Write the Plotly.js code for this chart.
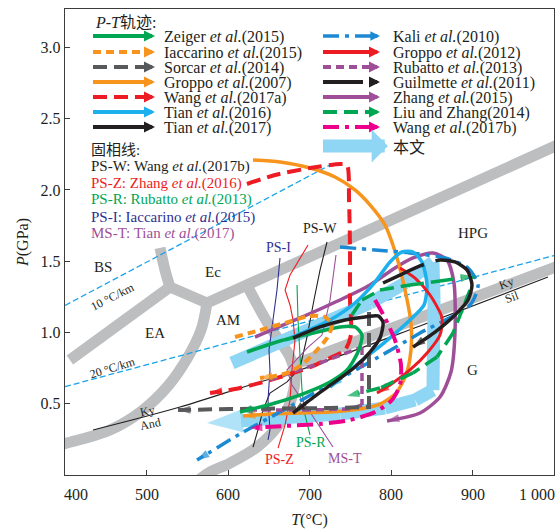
<!DOCTYPE html>
<html><head><meta charset="utf-8">
<script src="https://cdn.plot.ly/plotly-3.0.1.min.js"></script>
<style>body{margin:0;padding:0;background:#fff}#chart{width:559px;height:531px}</style>
</head><body><div id="chart"></div>
<script>
// ---------------- DATA (T in °C, P in GPa) ----------------
// P-T paths
const zeigerT=[623.3,663.8,704.3,737.4,755.8,764.4,759.5,746,725.2,694.5,657.7,614.7];
const zeigerP=[0.863,0.940,0.996,1.039,1.039,0.982,0.863,0.737,0.653,0.575,0.505,0.442];
const iaccarinoT=[608.6,639.3,670,700.6,719,727.6,721.5,709.2,694.5,676.1,657.7,639.3];
const iaccarinoP=[0.968,1.017,1.067,1.116,1.109,1.053,0.961,0.877,0.793,0.723,0.695,0.681];
const sorcarT=[773,773,773,725.2,663.8,602.5,538.7];
const sorcarP=[1.144,0.81,0.477,0.470,0.463,0.463,0.456];
const groppo07T=[630.7,663.8,700.6,731.3,755.8,774.2,792.6,807.4,817.2,824.5,824.5,818.4,806.1,786.5,762,725.2,688.3,651.5,618.4];
const groppo07P=[2.210,2.196,2.154,2.091,2.000,1.895,1.754,1.523,1.298,1.067,0.877,0.702,0.575,0.498,0.463,0.442,0.435,0.428,0.414];
const wang17aT=[623.3,657.7,700.6,737.4,746,748.5,749.7,749.7,750.9,743.6,725.2,704.3,676.1,639.3,608.6,577.9];
const wang17aP=[2.042,2.105,2.154,2.182,2.175,1.930,1.579,1.228,0.982,0.877,0.821,0.765,0.709,0.646,0.603,0.575];
const tian16T=[670,725.2,755.8,780.4,798.8,813.5,827,838,844.2,840.5,823.3,792.6,762,725.2];
const tian16P=[0.947,1.088,1.207,1.354,1.495,1.565,1.565,1.495,1.333,1.193,1.088,0.933,0.793,0.617];
const tian17T=[679.8,712.9,743.6,768.1,784.1,790.2,786.5,774.2,755.8,731.3,706.8,679.8];
const tian17P=[0.961,1.039,1.088,1.109,1.116,1.074,0.961,0.863,0.758,0.653,0.554,0.435];
const kaliT=[737.4,780.4,823.3,866.3,894.5,906.8,897,835.6,774.2,716.6,663.8,614.7,562];
const kaliP=[1.600,1.579,1.558,1.523,1.453,1.333,1.193,0.996,0.793,0.610,0.442,0.288,0.105];
const groppo12T=[811,829.5,847.9,862.6,860.1,845.4,823.3,798.8,782.8];
const groppo12P=[1.453,1.382,1.263,1.102,0.982,0.863,0.737,0.632,0.575];
const rubattoT=[651.5,712.9,764.4,764.4,764.4,749.7,700.6,651.5,614.7];
const rubattoP=[0.667,0.786,0.898,0.702,0.491,0.463,0.456,0.456,0.456];
const guilmetteT=[790.2,811,835.6,860.1,878.5,893.3,899.4,894.5,878.5,854,827];
const guilmetteP=[1.347,1.403,1.467,1.509,1.495,1.439,1.333,1.228,1.123,1.003,0.898];
const zhang15T=[633.1,688.3,737.4,774.2,804.9,827,851.5,868.7,877.3,878.5,873.6,860.1,835.6,795.1];
const zhang15P=[0.968,1.102,1.228,1.333,1.453,1.523,1.558,1.509,1.347,0.996,0.723,0.547,0.435,0.379];
const liuZhangT=[752.1,764.4,786.5,823.3,860.1,900.6,896.9,887.1,876.1,856.4,827,786.5,746];
const liuZhangP=[1.123,1.228,1.298,1.333,1.361,1.396,1.298,1.158,0.996,0.828,0.716,0.610,0.554];
const wang17bT=[780.4,792.6,804.9,812.3,811,801.2,780.4,749.7,712.9,669.9,627];
const wang17bP=[1.228,1.102,0.947,0.772,0.632,0.526,0.442,0.386,0.358,0.344,0.330];
const thisStudyT=[604.9,651.5,712.9,774.2,817.2,851.5,852.8,852.8,851.5,829.5,792.6,737.4,676.1,614.7,574.2];
const thisStudyP=[0.786,0.905,1.053,1.207,1.347,1.495,1.228,0.877,0.596,0.526,0.470,0.428,0.400,0.379,0.365];
// solidi
const psWT=[721.5,712.9,705.5,696.9,688.3,672.4,651.5,643,636.8,630.7];
const psWP=[1.635,1.438,1.228,0.968,0.751,0.653,0.575,0.456,0.316,0.196];
const psZT=[698.2,688.3,676.1,670,676.1,679.8,682.2,678.5,676.1,670,661.4];
const psZP=[1.614,1.523,1.403,1.298,1.193,1.088,0.947,0.737,0.526,0.351,0.189];
const psRT=[684.7,685.9,688.3,690.8,694.5,700.6];
const psRP=[1.333,1.088,0.842,0.596,0.421,0.281];
const psIT=[663.8,660.1,655.2,650.3,651.5,649.1,651.5,649.1];
const psIP=[1.523,1.298,1.088,0.877,0.737,0.526,0.316,0.246];
const msTT=[732.5,725.2,715.3,697,672.4,678.5,700.6,728.8];
const msTP=[1.544,1.228,0.982,0.891,0.737,0.632,0.442,0.196];
// facies boundaries (thick grey)
const bnd1T=[406,528.8], bnd1P=[0.807,1.319];
const bnd2T=[528.8,522.7,516.6], bnd2P=[1.319,1.438,1.593];
const bnd3T=[528.8,574.2], bnd3P=[1.319,1.207];
const bnd4T=[574.2,1010], bnd4P=[1.207,2.33];
const bnd5T=[574.2,566.9,550.9,526.4,495.7,455.2,402.5,392], bnd5P=[1.207,1.017,0.828,0.625,0.456,0.316,0.225,0.21];
const bnd6T=[623.3,651.5,676.1,682.2,676.1,660.1,635.6,602.5,577.9,565], bnd6P=[1.33,1.039,0.828,0.688,0.505,0.337,0.196,0.084,0.021,-0.03];
const bnd7T=[679.8,1005], bnd7P=[0.772,1.466];
// Al2SiO5 reactions (thin black)
const alsT=[434.4,541.1,627,688.3,835.6,992.6], alsP=[0.316,0.477,0.632,0.737,1.046,1.389];
// geotherms
const geo10T=[400,730], geo10P=[1.19,2.19];
const geo20T=[400,1000], geo20P=[0.62,1.54];
// labels
const fieldLabels=['BS','Ec','EA','AM','HPG','G'];
const fieldT=[446.6,581.6,510.4,600,900.6,899.4];
const fieldP=[1.460,1.424,0.996,1.088,1.698,0.737];
const solidusLabels=['PS-W','PS-I','PS-Z','PS-R','MS-T'];
const solidusLabelT=[712.9,661.4,662.6,701.8,743.6];
const solidusLabelP=[1.733,1.593,0.112,0.225,0.119];
const xTickVals=[400,500,600,700,800,900,1000];
const xTickText=['400','500','600','700','800','900','1 000'];
const yTickVals=[0.5,1.0,1.5,2.0,2.5,3.0];
const yTickText=['0.5','1.0','1.5','2.0','2.5','3.0'];
const ptLegend=[
 ['Zeiger <i>et al.</i>(2015)','#00a651','solid',4],
 ['Iaccarino <i>et al.</i>(2015)','#f7941d','8px,5px',4],
 ['Sorcar <i>et al.</i>(2014)','#58595b','14px,7px',4],
 ['Groppo <i>et al.</i>(2007)','#f7941d','solid',4],
 ['Wang <i>et al.</i>(2017a)','#ed1c24','14px,7px',4],
 ['Tian <i>et al.</i>(2016)','#1cb0ec','solid',4],
 ['Tian <i>et al.</i>(2017)','#231f20','solid',4],
 ['Kali <i>et al.</i>(2010)','#1b8ad3','16px,6px,4px,6px',3.5],
 ['Groppo <i>et al.</i>(2012)','#ed1c24','solid',4],
 ['Rubatto <i>et al.</i>(2013)','#9e4f98','8px,5px',4],
 ['Guilmette <i>et al.</i>(2011)','#231f20','40px,10px',4],
 ['Zhang <i>et al.</i>(2015)','#9e4f98','solid',4],
 ['Liu and Zhang(2014)','#00a651','14px,7px',4],
 ['Wang <i>et al.</i>(2017b)','#ec008c','16px,6px,4px,6px',4],
 ['本文','#8fd6f5','solid',13]
];
const solidusLegend=[
 ['PS-W: Wang <i>et al.</i>(2017b)','#231f20'],
 ['PS-Z: Zhang <i>et al.</i>(2016)','#ed1c24'],
 ['PS-R: Rubatto <i>et al.</i>(2013)','#00a651'],
 ['PS-I: Iaccarino <i>et al.</i>(2015)','#2e3192'],
 ['MS-T: Tian <i>et al.</i>(2017)','#9e4f98']
];

// ---------------- helpers ----------------
const FONT='"Liberation Serif","Times New Roman","Noto Sans CJK SC",serif';
const GREY='#bcbec0';
function line(T,P,color,width,dash,shape){
  return {x:T,y:P,type:'scatter',mode:'lines',line:{color:color,width:width,dash:dash||'solid',shape:shape||'linear'},hoverinfo:'skip',showlegend:false};
}
function arrowPath(T,P,color,width,dash,shape,arrowIdx,aSize){
  const sizes=T.map((_,i)=>arrowIdx.indexOf(i)>=0?aSize:0);
  return {x:T,y:P,type:'scatter',mode:'lines+markers',
    line:{color:color,width:width,dash:dash,shape:shape,smoothing:0.7},
    marker:{symbol:'arrow',angleref:'previous',size:sizes,color:color,line:{width:0}},
    hoverinfo:'skip',showlegend:false};
}
const last=a=>[a.length-1];
const traces=[];
[[bnd1T,bnd1P],[bnd2T,bnd2P],[bnd3T,bnd3P],[bnd4T,bnd4P],[bnd5T,bnd5P],[bnd6T,bnd6P],[bnd7T,bnd7P]].forEach(b=>traces.push(line(b[0],b[1],GREY,11,'solid','spline')));
traces.push(line(geo10T,geo10P,'#1aa3e8',1.3,'6px,3px'));
traces.push(line(geo20T,geo20P,'#1aa3e8',1.3,'6px,3px'));
traces.push(line(alsT,alsP,'#231f20',1.1,'solid','spline'));
traces.push(arrowPath(thisStudyT,thisStudyP,'#8fd6f5',13,'solid','linear',last(thisStudyT),38));
traces.push(line(psWT,psWP,'#231f20',1.1,'solid'));
traces.push(line(psZT,psZP,'#ed1c24',1.1,'solid'));
traces.push(line(psRT,psRP,'#00a651',1.1,'solid'));
traces.push(line(psIT,psIP,'#2e3192',1.1,'solid'));
traces.push(line(msTT,msTP,'#9e4f98',1.1,'solid'));
const A=13;
traces.push(arrowPath(zhang15T,zhang15P,'#9e4f98',3.5,'solid','spline',last(zhang15T),A));
traces.push(arrowPath(groppo07T,groppo07P,'#f7941d',3.5,'solid','spline',last(groppo07T),A));
traces.push(arrowPath(wang17aT,wang17aP,'#ed1c24',4,'14px,7px','spline',last(wang17aT),A));
traces.push(arrowPath(kaliT,kaliP,'#1b8ad3',3.5,'16px,6px,4px,6px','spline',last(kaliT),A));
traces.push(arrowPath(tian16T,tian16P,'#1cb0ec',3.5,'solid','spline',last(tian16T),A));
traces.push(arrowPath(groppo12T,groppo12P,'#ed1c24',3,'solid','spline',last(groppo12T),A));
traces.push(arrowPath(liuZhangT,liuZhangP,'#00a651',3.5,'14px,7px','linear',[5,12],A));
traces.push(arrowPath(wang17bT,wang17bP,'#ec008c',4,'16px,6px,4px,6px','spline',last(wang17bT),A));
traces.push(arrowPath(rubattoT,rubattoP,'#9e4f98',3.5,'8px,5px','linear',last(rubattoT),A));
traces.push(arrowPath(sorcarT,sorcarP,'#58595b',4,'14px,7px','linear',last(sorcarT),A));
traces.push(arrowPath(zeigerT,zeigerP,'#00a651',3.5,'solid','spline',last(zeigerT),A));
traces.push(arrowPath(iaccarinoT,iaccarinoP,'#f7941d',4,'8px,5px','spline',last(iaccarinoT),A));
traces.push(arrowPath(guilmetteT,guilmetteP,'#231f20',3.5,'45px,12px,600px,0px','spline',last(guilmetteT),A));
traces.push(arrowPath(tian17T,tian17P,'#231f20',3.5,'solid','spline',last(tian17T),A));

// pixel -> paper (layout placement of the in-plot legend)
const L=65,R=554,T0=9,B=475;
const PX=x=>(x-L)/(R-L), PY=y=>(B-y)/(B-T0);
const shapes=[], ann=[];
const rowsY=[36,52,67,82,97,112,127];
ptLegend.forEach((e,i)=>{
  const right=i>=7;
  const y=right?(i===14?146:rowsY[i-7]):rowsY[i];
  const x0=right?323:93, tip=right?(i===14?388:380):155;
  const stop=tip-(i===14?20:8);
  shapes.push({type:'line',xref:'paper',yref:'paper',x0:PX(x0),x1:PX(stop),y0:PY(y),y1:PY(y),line:{color:e[1],width:e[3],dash:e[2]}});
  ann.push({xref:'paper',yref:'paper',x:PX(tip),y:PY(y),ax:i===14?-22:-10,ay:0,text:'',showarrow:true,
    arrowhead:i===14?1:2,arrowsize:i===14?0.42:0.55,arrowwidth:e[3],arrowcolor:e[1]});
  ann.push({xref:'paper',yref:'paper',x:PX(right?392:163),y:PY(y+1),xanchor:'left',yanchor:'middle',
    text:e[0],showarrow:false,borderpad:0,font:{family:FONT,size:16,color:'#231f20'}});
});
ann.push({xref:'paper',yref:'paper',x:PX(94),y:PY(22),xanchor:'left',yanchor:'middle',text:'<i>P</i>-<i>T</i>轨迹:',showarrow:false,borderpad:0,font:{family:FONT,size:16,color:'#231f20'}});
ann.push({xref:'paper',yref:'paper',x:PX(90),y:PY(150),xanchor:'left',yanchor:'middle',text:'固相线:',showarrow:false,borderpad:0,font:{family:FONT,size:15,color:'#231f20'}});
const solY=[167,183,200,217,233];
solidusLegend.forEach((e,i)=>ann.push({xref:'paper',yref:'paper',x:PX(90),y:PY(solY[i]),xanchor:'left',yanchor:'middle',text:e[0],showarrow:false,borderpad:0,font:{family:FONT,size:15,color:e[1]}}));
// field and reaction labels
fieldLabels.forEach((t,i)=>ann.push({x:fieldT[i],y:fieldP[i],text:t,showarrow:false,font:{family:FONT,size:15,color:'#231f20'}}));
const solColors=['#231f20','#2e3192','#ed1c24','#00a651','#9e4f98'];
solidusLabels.forEach((t,i)=>ann.push({x:solidusLabelT[i],y:solidusLabelP[i],text:t,showarrow:false,font:{family:FONT,size:14,color:solColors[i]}}));
ann.push({x:942.3,y:1.347,text:'Ky',textangle:-20,showarrow:false,font:{family:FONT,size:12,color:'#231f20'}});
ann.push({x:948.5,y:1.249,text:'Sil',textangle:-20,showarrow:false,font:{family:FONT,size:12,color:'#231f20'}});
ann.push({x:501.8,y:0.447,text:'Ky',textangle:-12,showarrow:false,font:{family:FONT,size:12,color:'#231f20'}});
ann.push({x:504.3,y:0.360,text:'And',textangle:-12,showarrow:false,font:{family:FONT,size:12,color:'#231f20'}});
ann.push({x:457.7,y:1.25,text:'10 °C/km',textangle:-27,showarrow:false,font:{family:FONT,size:12,color:'#231f20'}});
ann.push({x:457.7,y:0.75,text:'20 °C/km',textangle:-17,showarrow:false,font:{family:FONT,size:12,color:'#231f20'}});
// x tick labels (edge labels pulled inside as in the original)
xTickVals.forEach((v,i)=>ann.push({x:v,xref:'x',y:0,yref:'paper',yanchor:'top',yshift:-9,
  xshift:i===0?11:(i===xTickVals.length-1?-17:0),text:xTickText[i],showarrow:false,font:{family:FONT,size:16,color:'#231f20'}}));

const layout={
  width:559,height:531,margin:{l:65,r:5,t:9,b:56},
  paper_bgcolor:'#fff',plot_bgcolor:'#fff',
  xaxis:{range:[400,1000],tickvals:xTickVals,showticklabels:false,ticks:'inside',ticklen:5,tickcolor:'#3c3c3c',
    showline:true,mirror:true,linecolor:'#3c3c3c',linewidth:1.2,showgrid:false,zeroline:false,
    title:{text:'<i>T</i>(°C)',font:{family:FONT,size:16,color:'#231f20'},standoff:38}},
  yaxis:{range:[0,3.27],tickvals:yTickVals,ticktext:yTickText,ticks:'inside',ticklen:5,tickcolor:'#3c3c3c',
    showline:true,mirror:true,linecolor:'#3c3c3c',linewidth:1.2,showgrid:false,zeroline:false,
    tickfont:{family:FONT,size:16,color:'#231f20'},
    title:{text:'<i>P</i>(GPa)',font:{family:FONT,size:16,color:'#231f20'},standoff:8}},
  shapes:shapes,annotations:ann,showlegend:false
};
Plotly.newPlot('chart',traces,layout,{displayModeBar:false,staticPlot:true});
</script></body></html>
